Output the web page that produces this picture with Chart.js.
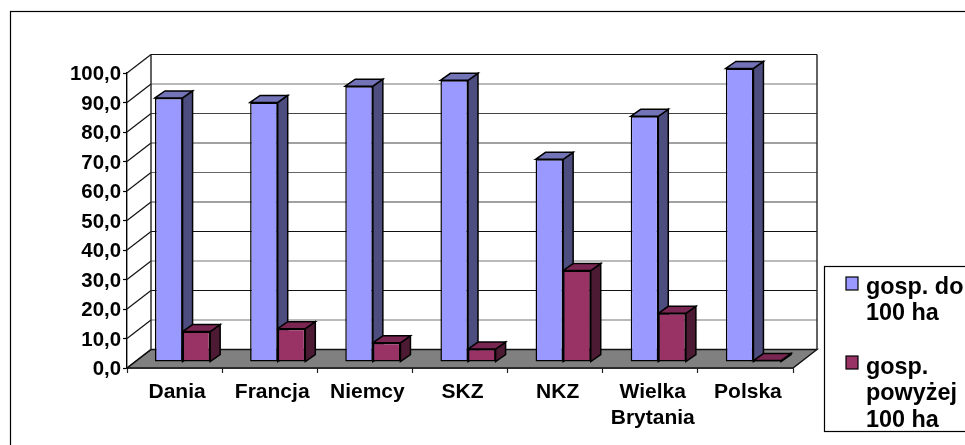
<!DOCTYPE html>
<html>
<head>
<meta charset="utf-8">
<script src="https://cdn.jsdelivr.net/npm/chart.js@4"></script>
<style>
   html, body { margin: 0; padding: 0; background: #fff; overflow: hidden; }
   canvas { display: block; }
</style>
</head>
<body>
<canvas id="farmChart" width="965" height="445"></canvas>
<script>
var categories = ["Dania", "Francja", "Niemcy", "SKZ", "NKZ", ["Wielka", "Brytania"], "Polska"];
var seriesNames = [["gosp. do", "100 ha"], ["gosp.", "powyżej", "100 ha"]];
var upTo100 = [89.5, 88.0, 93.5, 95.5, 68.7, 83.3, 99.5];
var over100 = [10.3, 11.3, 6.5, 4.4, 31.0, 16.5, 0.5];

var fontName = "'Liberation Sans', Arial, sans-serif";

// 3D look: offset of the bars from the front plane, depth of a bar, depth of the floor
var barShift = { x: 8, y: -6 };
var barDepth = { x: 10, y: -7 };
var wallDepth = { x: 24, y: -18.5 };

var sideColors = ["#4d4d80", "#4d1a33"];
var topColors = ["#7373b8", "#7a2652"];
// grid lines come out darker or lighter in the original, from 0 up to 100
var gridShades = ["#000", "#777", "#111", "#777", "#111", "#444", "#666", "#444", "#444", "#777", "#111"];

function poly(ctx, pts, fill) {
   ctx.beginPath();
   ctx.moveTo(pts[0][0], pts[0][1]);
   for (let i = 1; i < pts.length; i++) {
      ctx.lineTo(pts[i][0], pts[i][1]);
   }
   ctx.closePath();
   if (fill) {
      ctx.fillStyle = fill;
      ctx.fill();
   }
   ctx.stroke();
}

function drawFaces(chart, index) {
   var ctx = chart.ctx;
   chart.getDatasetMeta(index).data.forEach(function (bar) {
      var l = bar.x - bar.width / 2;
      var r = bar.x + bar.width / 2;
      var t = bar.y;
      var b = bar.base;
      poly(ctx, [[r, t], [r + barDepth.x, t + barDepth.y], [r + barDepth.x, b + barDepth.y], [r, b]], sideColors[index]);
      poly(ctx, [[l, t], [l + barDepth.x, t + barDepth.y], [r + barDepth.x, t + barDepth.y], [r, t]], topColors[index]);
   });
}

var walls = {
   id: "walls",
   beforeDatasetsDraw: function (chart) {
      var ctx = chart.ctx;
      var a = chart.chartArea;
      var yScale = chart.scales.y;
      var dx = wallDepth.x;
      var dy = wallDepth.y;
      ctx.save();
      // chart frame, right and bottom edge are cut off in the original
      ctx.strokeStyle = "#000";
      ctx.lineWidth = 1.2;
      ctx.strokeRect(10.5, 11.5, 970, 450);
      // floor
      ctx.lineWidth = 1.4;
      ctx.strokeStyle = "#111";
      poly(ctx, [[a.left, a.bottom], [a.right, a.bottom], [a.right + dx, a.bottom + dy], [a.left + dx, a.bottom + dy]], "#808080");
      // grid on back and side wall
      yScale.ticks.forEach(function (t, i) {
         var y = yScale.getPixelForValue(t.value);
         ctx.strokeStyle = "#111";
         ctx.lineWidth = 1.2;
         ctx.beginPath();
         ctx.moveTo(a.left, y);
         ctx.lineTo(a.left + dx, y + dy);
         ctx.stroke();
         if (i > 0) {
            ctx.strokeStyle = gridShades[i];
            ctx.beginPath();
            ctx.moveTo(a.left + dx, y + dy);
            ctx.lineTo(a.right + dx, y + dy);
            ctx.stroke();
         }
      });
      // wall edges
      ctx.strokeStyle = "#222";
      ctx.lineWidth = 1.4;
      ctx.beginPath();
      ctx.moveTo(a.left + dx, a.bottom + dy);
      ctx.lineTo(a.left + dx, a.top + dy);
      ctx.moveTo(a.right + dx, a.bottom + dy);
      ctx.lineTo(a.right + dx, a.top + dy);
      ctx.stroke();
      ctx.restore();
   },
   // chart.js draws the last dataset first, so the faces of both series go in
   // before the red fronts, and the blue fronts come last
   beforeDatasetDraw: function (chart, args) {
      var ctx = chart.ctx;
      ctx.save();
      ctx.translate(barShift.x, barShift.y);
      if (args.index === 1) {
         ctx.strokeStyle = "#000";
         ctx.lineWidth = 1.5;
         drawFaces(chart, 0);
         drawFaces(chart, 1);
      }
   },
   afterDatasetDraw: function (chart) {
      chart.ctx.restore();
   },
   afterDraw: function (chart) {
      var ctx = chart.ctx;
      // legend box, the series names wrap like in the original
      var swatchY = [277, 356];
      var baselines = [[293.5, 320.2], [373.5, 400, 426.5]];
      ctx.save();
      ctx.fillStyle = "#fff";
      ctx.strokeStyle = "#000";
      ctx.lineWidth = 1.2;
      ctx.fillRect(824.5, 266.5, 160, 165);
      ctx.strokeRect(824.5, 266.5, 160, 165);
      ctx.font = "bold 23.4px " + fontName;
      seriesNames.forEach(function (lines, s) {
         ctx.fillStyle = chart.data.datasets[s].backgroundColor;
         ctx.fillRect(846, swatchY[s], 12, 13);
         ctx.strokeRect(846, swatchY[s], 12, 13);
         ctx.fillStyle = "#000";
         lines.forEach(function (line, i) {
            ctx.fillText(line, 866, baselines[s][i]);
         });
      });
      ctx.restore();
   }
};

var ctx = document.getElementById("farmChart").getContext("2d");
var chart = new Chart(ctx, {
   type: "bar",
   data: {
      labels: categories,
      datasets: [
         {
            label: "gosp. do 100 ha",
            data: upTo100,
            backgroundColor: "#9999ff",
            borderColor: "#000",
            borderWidth: 1.5,
            borderSkipped: false,
         },
         {
            label: "gosp. powyżej 100 ha",
            data: over100,
            backgroundColor: "#993366",
            borderColor: "#000",
            borderWidth: 1.5,
            borderSkipped: false,
         },
      ],
   },
   options: {
      responsive: false,
      animation: false,
      layout: { padding: { top: 73, right: 172, left: 0, bottom: 0 } },
      plugins: { legend: { display: false }, tooltip: { enabled: false } },
      datasets: { bar: { barPercentage: 1, categoryPercentage: 0.58 } },
      scales: {
         x: {
            grid: { drawOnChartArea: false, tickLength: 5, color: "#222", tickWidth: 1.2 },
            border: { color: "#000", width: 1.4 },
            ticks: {
               color: "#000",
               font: { family: fontName, size: 21, weight: "bold", lineHeight: 1.2 },
               maxRotation: 0,
               autoSkip: false,
               padding: 7,
               labelOffset: 2.5,
            },
            afterFit: function (s) {
               s.height = 77;
            },
         },
         y: {
            min: 0,
            max: 100,
            grid: { drawOnChartArea: false, tickLength: 4, color: "#000", tickWidth: 1.2 },
            border: { color: "#000", width: 1.4 },
            ticks: {
               stepSize: 10,
               color: "#000",
               padding: 2,
               labelOffset: 1.5,
               font: { family: fontName, size: 20.4, weight: "bold" },
               callback: function (v) {
                  return v.toFixed(1).replace(".", ",");
               },
            },
            afterFit: function (s) {
               s.width = 127;
            },
         },
      },
   },
   plugins: [walls],
});
</script>
</body>
</html>
